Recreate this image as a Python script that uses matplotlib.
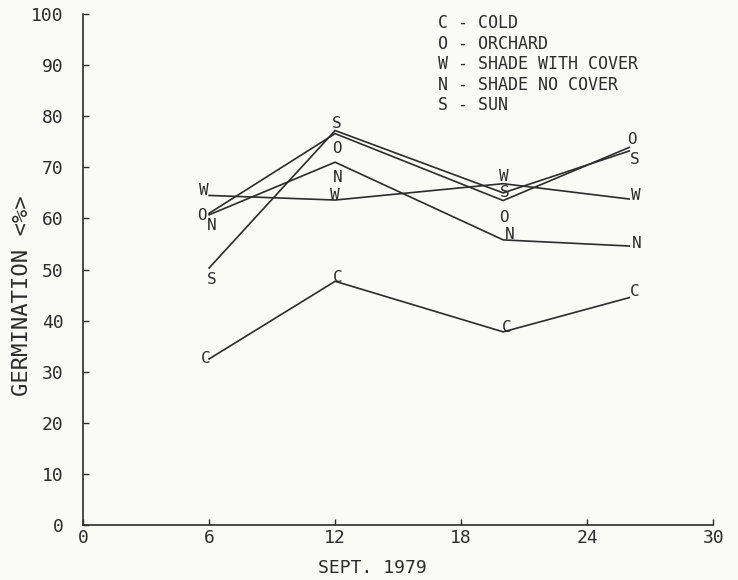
import matplotlib
matplotlib.use("Agg")
import matplotlib.pyplot as plt

# ---- data ----
dates = [6, 12, 20, 26]
codes = ["C", "O", "W", "N", "S"]
names = ["COLD", "ORCHARD", "SHADE WITH COVER", "SHADE NO COVER", "SUN"]
cold = [32.5, 47.7, 37.8, 44.5]
orchard = [61.0, 76.6, 63.5, 73.9]
shade_cover = [64.5, 63.6, 66.8, 63.8]
shade_no_cover = [60.7, 71.0, 55.8, 54.6]
sun = [50.3, 77.2, 65.0, 73.2]
series = [cold, orchard, shade_cover, shade_no_cover, sun]
x_ticks = [0, 6, 12, 18, 24, 30]
y_ticks = [0, 10, 20, 30, 40, 50, 60, 70, 80, 90, 100]
x_title = "SEPT. 1979"
y_title = "GERMINATION <%>"

# label placement offsets (pixels) for the plotted letters
letter_offsets = [
    [(-3, 0), (3, 4), (3, 4), (5, 6)],
    [(-7, -2), (2, -15), (1, -17), (3, 8)],
    [(-5, 5), (0, 5), (1, 7), (7, 4)],
    [(3, -11), (3, -15), (6, 5), (7, 3)],
    [(3, -12), (2, 7), (1, 0), (5, -9)],
]

ink = "#2c2c2c"
bg = "#fafaf7"
mono = "DejaVu Sans Mono"

fig = plt.figure(figsize=(7.38, 5.8), dpi=100, facecolor=bg)
ax = fig.add_axes([0.1125, 0.0948, 0.854, 0.881])
ax.set_facecolor(bg)

for vals, code, offs in zip(series, codes, letter_offsets):
    ax.plot(dates, vals, color=ink, lw=1.2, solid_joinstyle="miter")
    for xv, yv, (dx, dy) in zip(dates, vals, offs):
        ax.annotate(code, (xv, yv), xytext=(dx, dy), textcoords="offset pixels",
                    ha="center", va="center", fontsize=11.5, family=mono,
                    color=ink)

ax.set_xlim(0, 30)
ax.set_ylim(0, 100)
ax.set_xticks(x_ticks)
ax.set_yticks(y_ticks)
ax.set_xticklabels([str(t) for t in x_ticks], family=mono, fontsize=13, color=ink)
ax.set_yticklabels([str(t) for t in y_ticks], family=mono, fontsize=13, color=ink)
ax.tick_params(axis="both", direction="in", length=4, width=1.0, color=ink)
ax.tick_params(axis="y", pad=14)
ax.tick_params(axis="x", pad=3)
for s in ["top", "right"]:
    ax.spines[s].set_visible(False)
for s in ["left", "bottom"]:
    ax.spines[s].set_color(ink)
    ax.spines[s].set_linewidth(1.2)

# legend block
for i, (c, n) in enumerate(zip(codes, names)):
    ax.text(0.5635, 0.982 - i * 0.0401, f"{c} - {n}", transform=ax.transAxes,
            ha="left", va="center", fontsize=12, family=mono, color=ink)

fig.text(0.505, 0.021, x_title, ha="center", va="center", fontsize=13,
         family=mono, color=ink)
fig.text(0.030, 0.491, y_title, ha="center", va="center", rotation=90,
         fontsize=16, family=mono, color=ink)

fig.savefig("out.png", dpi=100, facecolor=bg)
